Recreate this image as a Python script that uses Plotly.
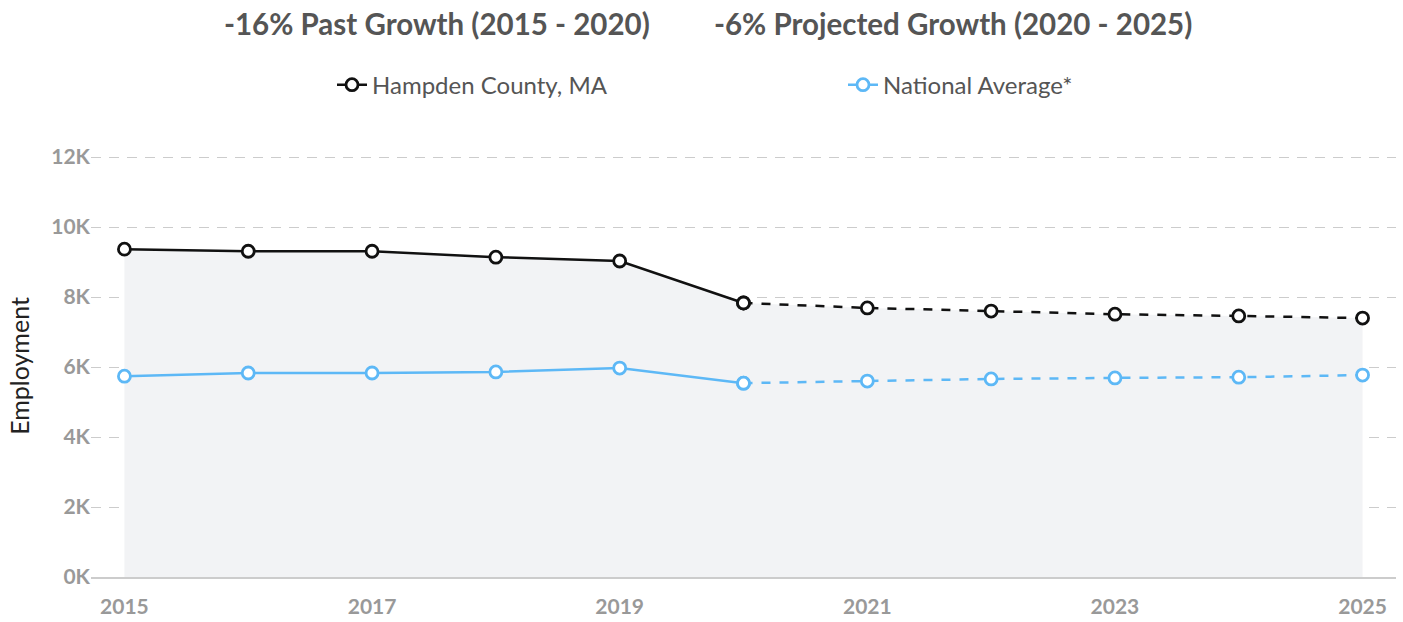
import plotly.graph_objects as go

years = [2015, 2016, 2017, 2018, 2019, 2020, 2021, 2022, 2023, 2024, 2025]
hampden = [9370, 9310, 9310, 9140, 9030, 7830, 7690, 7600, 7510, 7460, 7400]
national = [5740, 5830, 5830, 5860, 5970, 5540, 5600, 5660, 5690, 5710, 5770]
split_year = 2020
y_ticks = [0, 2000, 4000, 6000, 8000, 10000, 12000]
y_tick_labels = ["0K", "2K", "4K", "6K", "8K", "10K", "12K"]
x_ticks = [2015, 2017, 2019, 2021, 2023, 2025]
title_left = "-16% Past Growth (2015 - 2020)"
title_right = "-6% Projected Growth (2020 - 2025)"

BLACK = "#111111"
BLUE = "#5db8f6"
FONT = "Lato"

i = years.index(split_year)
fig = go.Figure()

# shaded area under county series
fig.add_trace(go.Scatter(x=years, y=hampden, mode="lines", line=dict(width=0),
                         fill="tozeroy", fillcolor="#f2f3f5", showlegend=False,
                         hoverinfo="skip"))

def add_series(vals, color, name):
    fig.add_trace(go.Scatter(x=years[:i + 1], y=vals[:i + 1], mode="lines+markers",
                             line=dict(color=color, width=2.5),
                             marker=dict(symbol="circle", size=12, color="white",
                                         line=dict(color=color, width=2.8)),
                             name=name))
    fig.add_trace(go.Scatter(x=years[i:], y=vals[i:], mode="lines+markers",
                             line=dict(color=color, width=2.5, dash="dash"),
                             marker=dict(symbol="circle", size=12, color="white",
                                         line=dict(color=color, width=2.8)),
                             showlegend=False, name=name))

add_series(hampden, BLACK, "Hampden County, MA")
add_series(national, BLUE, "National Average*")

# body margin is removed below, so pixel positions are page coords
OFF = 0
W, H = 1403, 622
YTOP = 12060
ph = 420 * YTOP / 12000
ml = 91 - OFF
mr = W - (1396 - OFF)
mb = H - (577 - OFF)
mt = H - mb - ph
pw = W - ml - mr

def px_x(px):
    return (px - OFF - ml) / pw

def px_y(py):
    return (H - mb - (py - OFF)) / ph

for txt, cx in [(title_left, 437), (title_right, 953)]:
    fig.add_annotation(text="<b>" + txt + "</b>", xref="paper", yref="paper",
                       x=px_x(cx), y=px_y(23), xanchor="center", yanchor="middle",
                       showarrow=False,
                       font=dict(family=FONT, size=29.5, color="#555555"))

fig.update_layout(
    width=W, height=H,
    margin=dict(l=ml, r=mr, t=mt, b=mb, autoexpand=False),
    plot_bgcolor="white", paper_bgcolor="white",
    font=dict(family=FONT),
    legend=dict(orientation="h", x=px_x(332), y=px_y(85),
                xanchor="left", yanchor="middle",
                entrywidth=466, font=dict(family=FONT, size=24, color="#555555"),
                bgcolor="rgba(0,0,0,0)"),
    xaxis=dict(range=[2014.73, 2025.27], tickvals=x_ticks, showgrid=False,
               showline=True, linecolor="#cccccc", linewidth=1.5, ticks="",
               ticklabelstandoff=10,
               tickfont=dict(family=FONT, size=21, color="#999999", weight="bold"),
               zeroline=False, fixedrange=True, automargin=False),
    yaxis=dict(range=[0, YTOP], tickvals=y_ticks, ticktext=y_tick_labels,
               showgrid=True, gridcolor="#cccccc", griddash="10px,8px", gridwidth=1.3,
               zeroline=False, showline=False, ticks="", ticklen=0,
               tickfont=dict(family=FONT, size=21, color="#999999", weight="bold"),
               title=dict(text="Employment", font=dict(family=FONT, size=25, color="#222222"),
                          standoff=14),
               fixedrange=True, automargin=False),
    hovermode="x",
)

fig.write_html("out.html", config={"displayModeBar": False},
               post_script="document.body.style.margin='0';document.body.style.overflow='hidden';")
